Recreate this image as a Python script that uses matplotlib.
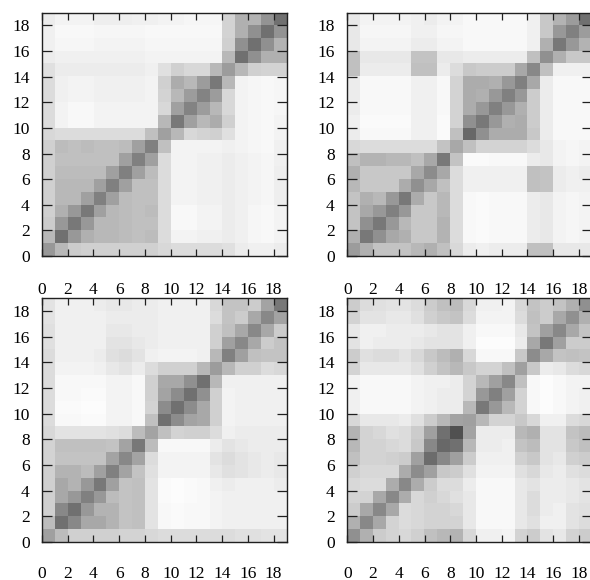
import numpy as np
import matplotlib
matplotlib.use("Agg")
import matplotlib.pyplot as plt

plt.rcParams['font.family'] = ['Liberation Serif', 'DejaVu Serif']

# Grey level (0 = black, 255 = white) of each cell, lower triangle rows (row i: columns 0..i).
# The matrices are symmetric.
tri_top_left = [
    [0x98],
    [0xb8, 0x70],
    [0xcc, 0x98, 0x78],
    [0xd0, 0xb0, 0x98, 0x78],
    [0xd0, 0xb8, 0xb8, 0xa0, 0x80],
    [0xd0, 0xb8, 0xb8, 0xb8, 0xa0, 0x80],
    [0xd0, 0xbc, 0xbc, 0xbc, 0xbc, 0xa0, 0x80],
    [0xd0, 0xc0, 0xc0, 0xc0, 0xc0, 0xc0, 0xa0, 0x80],
    [0xd0, 0xbc, 0xc0, 0xbc, 0xc0, 0xc0, 0xbc, 0xa0, 0x80],
    [0xd8, 0xdc, 0xdc, 0xdc, 0xdc, 0xdc, 0xdc, 0xdc, 0xc0, 0xa0],
    [0xdc, 0xf4, 0xf8, 0xf8, 0xf4, 0xf4, 0xf4, 0xf4, 0xf4, 0xb8, 0x78],
    [0xdc, 0xf4, 0xf8, 0xf8, 0xf4, 0xf4, 0xf4, 0xf4, 0xf4, 0xd8, 0xa0, 0x84],
    [0xdc, 0xf0, 0xf4, 0xf4, 0xf0, 0xf0, 0xf0, 0xf0, 0xf4, 0xd4, 0xb8, 0x9c, 0x84],
    [0xdc, 0xf0, 0xf4, 0xf4, 0xf0, 0xf0, 0xf0, 0xf0, 0xf4, 0xd0, 0xac, 0xb8, 0x9c, 0x78],
    [0xe0, 0xec, 0xec, 0xec, 0xec, 0xec, 0xec, 0xec, 0xf0, 0xe0, 0xd0, 0xd8, 0xd8, 0xb8, 0x9c],
    [0xec, 0xf0, 0xf0, 0xf0, 0xf0, 0xf0, 0xf0, 0xf0, 0xf4, 0xf4, 0xf4, 0xf4, 0xf4, 0xf4, 0xb8, 0x70],
    [0xf0, 0xf6, 0xf6, 0xf6, 0xf4, 0xf4, 0xf4, 0xf4, 0xf6, 0xf6, 0xf6, 0xf6, 0xf6, 0xf6, 0xd0, 0x90, 0x70],
    [0xf0, 0xf8, 0xf8, 0xf8, 0xf6, 0xf6, 0xf6, 0xf6, 0xf8, 0xf8, 0xf8, 0xf8, 0xf8, 0xf8, 0xd4, 0xb0, 0x90, 0x70],
    [0xec, 0xf4, 0xf4, 0xf4, 0xee, 0xee, 0xee, 0xf0, 0xf0, 0xf4, 0xf4, 0xf6, 0xf6, 0xf6, 0xd4, 0xb0, 0xb4, 0x94, 0x70],
]

tri_top_right = [
    [0x9c],
    [0xb0, 0x78],
    [0xc4, 0x90, 0x78],
    [0xc4, 0xa8, 0x98, 0x80],
    [0xc4, 0xb0, 0xb8, 0x98, 0x78],
    [0xb8, 0xc8, 0xc8, 0xc8, 0xac, 0x90],
    [0xb0, 0xc8, 0xc8, 0xc8, 0xc8, 0xa8, 0x8c],
    [0xc0, 0xb4, 0xb4, 0xb8, 0xb8, 0xc0, 0xa8, 0x78],
    [0xd8, 0xdc, 0xdc, 0xdc, 0xdc, 0xdc, 0xdc, 0xc4, 0xa8],
    [0xec, 0xf8, 0xf8, 0xf8, 0xf8, 0xf0, 0xf0, 0xfa, 0xc0, 0x68],
    [0xf0, 0xfa, 0xfa, 0xfa, 0xfa, 0xf0, 0xf0, 0xfa, 0xd4, 0x90, 0x78],
    [0xec, 0xf8, 0xf8, 0xf8, 0xf8, 0xf0, 0xf0, 0xf8, 0xd4, 0xac, 0x98, 0x80],
    [0xec, 0xf8, 0xf8, 0xf8, 0xf8, 0xf0, 0xf0, 0xf8, 0xd4, 0xac, 0xb0, 0x98, 0x80],
    [0xec, 0xf8, 0xf8, 0xf8, 0xf8, 0xf0, 0xf0, 0xf8, 0xd4, 0xac, 0xac, 0xb0, 0x98, 0x80],
    [0xc0, 0xec, 0xec, 0xec, 0xec, 0xc0, 0xc0, 0xec, 0xdc, 0xc8, 0xcc, 0xcc, 0xcc, 0xa8, 0x88],
    [0xc0, 0xe8, 0xe8, 0xe8, 0xe8, 0xc4, 0xc4, 0xe8, 0xe8, 0xec, 0xec, 0xec, 0xec, 0xec, 0xc0, 0x90],
    [0xe8, 0xf4, 0xf4, 0xf4, 0xf4, 0xec, 0xec, 0xf4, 0xf4, 0xf8, 0xf8, 0xf8, 0xf8, 0xf8, 0xf0, 0xb0, 0x78],
    [0xe8, 0xf6, 0xf6, 0xf6, 0xf6, 0xf0, 0xf0, 0xf6, 0xf6, 0xf8, 0xf8, 0xf8, 0xf8, 0xf8, 0xf0, 0xc8, 0x98, 0x80],
    [0xe8, 0xf4, 0xf4, 0xf4, 0xf4, 0xf0, 0xec, 0xf4, 0xf4, 0xf8, 0xf8, 0xf8, 0xf8, 0xf8, 0xf0, 0xc8, 0xb4, 0x9c, 0x70],
]

tri_bottom_left = [
    [0xa0],
    [0xbc, 0x70],
    [0xd0, 0x88, 0x70],
    [0xd0, 0xa8, 0x98, 0x80],
    [0xd0, 0xa8, 0xb4, 0x98, 0x78],
    [0xd0, 0xb4, 0xb4, 0xbc, 0xa0, 0x80],
    [0xd4, 0xc4, 0xc4, 0xc4, 0xc4, 0xa4, 0x88],
    [0xd4, 0xc0, 0xc0, 0xc0, 0xc0, 0xc4, 0xa4, 0x78],
    [0xd8, 0xe4, 0xe4, 0xe4, 0xe4, 0xe0, 0xdc, 0xbc, 0xa4],
    [0xdc, 0xf8, 0xf8, 0xfa, 0xfa, 0xf4, 0xf4, 0xf8, 0xc0, 0x70],
    [0xdc, 0xfa, 0xfa, 0xfc, 0xfc, 0xf4, 0xf4, 0xf8, 0xd4, 0x8c, 0x70],
    [0xdc, 0xf8, 0xf8, 0xfa, 0xfa, 0xf4, 0xf4, 0xf8, 0xd0, 0xa4, 0x8c, 0x70],
    [0xdc, 0xf8, 0xf8, 0xf8, 0xf8, 0xf4, 0xf4, 0xf8, 0xd0, 0xa8, 0xa8, 0x90, 0x70],
    [0xdc, 0xf4, 0xf4, 0xf4, 0xf0, 0xe8, 0xe4, 0xec, 0xdc, 0xd0, 0xd0, 0xd0, 0xb8, 0x9c],
    [0xdc, 0xf0, 0xf0, 0xf0, 0xec, 0xe0, 0xdc, 0xe4, 0xf0, 0xf4, 0xf4, 0xf4, 0xf0, 0xb8, 0x80],
    [0xe0, 0xf0, 0xf0, 0xf0, 0xf0, 0xe4, 0xe4, 0xe8, 0xec, 0xf0, 0xf0, 0xf0, 0xf0, 0xd0, 0xa0, 0x88],
    [0xe0, 0xf0, 0xf0, 0xf0, 0xf0, 0xe8, 0xe8, 0xec, 0xec, 0xf0, 0xf0, 0xf0, 0xf0, 0xd0, 0xc0, 0xa8, 0x88],
    [0xe4, 0xf0, 0xf0, 0xf0, 0xf0, 0xec, 0xec, 0xec, 0xec, 0xf0, 0xf0, 0xf0, 0xf0, 0xdc, 0xc4, 0xcc, 0xa8, 0x88],
    [0xe4, 0xf0, 0xf0, 0xf0, 0xec, 0xe8, 0xe8, 0xec, 0xec, 0xf0, 0xf0, 0xf0, 0xf0, 0xd8, 0xc4, 0xc4, 0xcc, 0xa4, 0x78],
]

tri_bottom_right = [
    [0x90],
    [0xb0, 0x88],
    [0xcc, 0xa8, 0x88],
    [0xd4, 0xd4, 0xa8, 0x88],
    [0xd8, 0xdc, 0xdc, 0xac, 0x88],
    [0xd0, 0xd8, 0xd8, 0xd8, 0xac, 0x8c],
    [0xc0, 0xd4, 0xd4, 0xd0, 0xcc, 0xa0, 0x6c],
    [0xb8, 0xd4, 0xd4, 0xd8, 0xdc, 0xc8, 0x88, 0x68],
    [0xb4, 0xd4, 0xd8, 0xe0, 0xdc, 0xcc, 0xa0, 0x70, 0x50],
    [0xd8, 0xe8, 0xe8, 0xe8, 0xec, 0xe0, 0xcc, 0xb8, 0xa4, 0xa0],
    [0xf0, 0xf8, 0xf8, 0xf8, 0xf8, 0xf4, 0xf0, 0xec, 0xec, 0xb8, 0x78],
    [0xf0, 0xf8, 0xf8, 0xf8, 0xf8, 0xf4, 0xf0, 0xec, 0xec, 0xd4, 0x98, 0x80],
    [0xf4, 0xf8, 0xf8, 0xf8, 0xf8, 0xf4, 0xf0, 0xf0, 0xec, 0xd4, 0xb8, 0xa0, 0x88],
    [0xd4, 0xe8, 0xe8, 0xe8, 0xe8, 0xe0, 0xd0, 0xc4, 0xb8, 0xc8, 0xd4, 0xd4, 0xc0, 0xa0],
    [0xcc, 0xe0, 0xdc, 0xdc, 0xe4, 0xd8, 0xc8, 0xbc, 0xb0, 0xd8, 0xf8, 0xf8, 0xf8, 0xc8, 0x8c],
    [0xe4, 0xf0, 0xec, 0xec, 0xec, 0xe8, 0xe4, 0xe4, 0xe4, 0xf0, 0xfc, 0xfc, 0xfc, 0xec, 0xa8, 0x78],
    [0xe8, 0xf0, 0xf0, 0xec, 0xec, 0xec, 0xe8, 0xe4, 0xe4, 0xf0, 0xf8, 0xf8, 0xf8, 0xe8, 0xc4, 0xa0, 0x88],
    [0xd4, 0xe4, 0xe4, 0xe8, 0xe8, 0xe0, 0xd0, 0xc8, 0xc4, 0xdc, 0xf4, 0xf4, 0xf4, 0xdc, 0xc0, 0xcc, 0xa8, 0x90],
    [0xcc, 0xdc, 0xe0, 0xe4, 0xe4, 0xdc, 0xcc, 0xc0, 0xbc, 0xd8, 0xf0, 0xf0, 0xf4, 0xd8, 0xc4, 0xcc, 0xc4, 0xb0, 0x90],
]

tick_values = list(range(0, 19, 2))
tick_labels = [str(v) for v in tick_values]


def symmetric(tri):
    n = len(tri)
    m = np.zeros((n, n))
    for i, row in enumerate(tri):
        for j, v in enumerate(row):
            m[i, j] = v
            m[j, i] = v
    return m


W, H = 590, 580
fig = plt.figure(figsize=(W / 100, H / 100), dpi=100)

panel_w, panel_h = 244.5, 243.6
panels = [
    (tri_top_left, 42.0, 12.5, 18.5),
    (tri_top_right, 347.3, 12.5, 18.5),
    (tri_bottom_left, 42.0, 298.3, 17.0),
    (tri_bottom_right, 347.3, 298.3, 17.0),
]

for tri, px, py, xpad in panels:
    m = symmetric(tri)
    n = m.shape[0]
    ax = fig.add_axes([px / W, 1 - (py + panel_h) / H, panel_w / W, panel_h / H])
    ax.imshow(m, cmap='gray', vmin=0, vmax=255, origin='lower',
              extent=(0, n, 0, n), interpolation='nearest', aspect='auto')
    ax.set_xlim(0, n)
    ax.set_ylim(0, n)
    ax.set_xticks(tick_values)
    ax.set_xticklabels(tick_labels)
    ax.set_yticks(tick_values)
    ax.set_yticklabels(tick_labels)
    ax.tick_params(axis='x', direction='in', length=5.0, width=0.9, color='#202020',
                   top=True, bottom=True, labelsize=12.5, pad=xpad)
    ax.tick_params(axis='y', direction='in', length=7.5, width=0.9, color='#202020',
                   left=True, right=True, labelsize=12.5, pad=9)
    for s in ax.spines.values():
        s.set_linewidth(1.0)
        s.set_color('#202020')

fig.savefig('out.png', dpi=100)
